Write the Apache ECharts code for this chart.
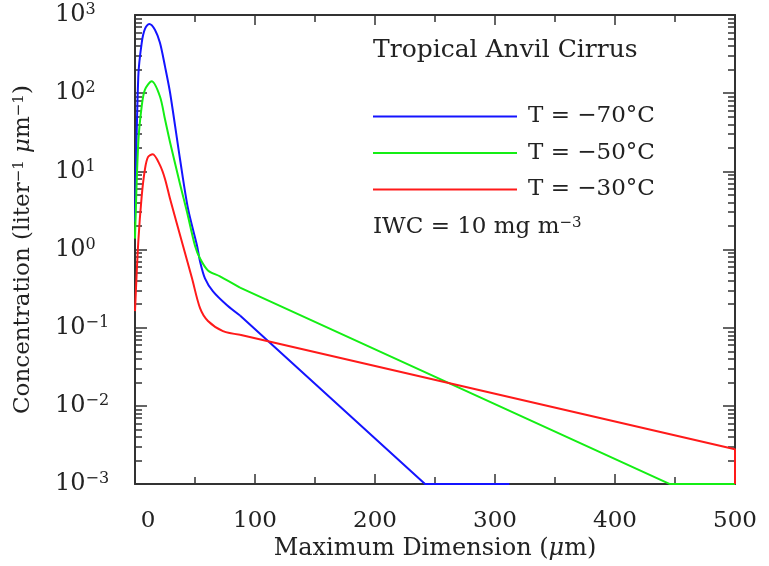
<!DOCTYPE html>
<html>
<head>
<meta charset="utf-8" />
<title>Tropical Anvil Cirrus</title>
<script src="https://cdn.jsdelivr.net/npm/echarts@6/dist/echarts.min.js"></script>
</head>
<body style="margin:0">
<div id="chart" style="width:769px;height:566px;"></div>
<script>
var seriesNames = ['T = \u221270\u00b0C', 'T = \u221250\u00b0C', 'T = \u221230\u00b0C'];
var colors = ['#1414ff', '#14ee14', '#ff1a1a'];
// curved part (smoothed) up to the knee, straight tails after it
var knee = 87.5;

// T = -70 C
var blueX = [0, 2.75, 5.6, 8.3, 11.9, 16.7, 20.8, 25, 29.2, 37.5, 44.2, 51.7, 54.2, 58.3, 65, 76.7, 87.5, 241.7, 312];
var blueY = [2.27, 164, 441, 664, 769, 645, 441, 220, 102, 14.4, 3.32, 1.12, 0.705, 0.429, 0.292, 0.194, 0.1436, 0.001, 0.001];
// T = -50 C
var greenX = [0, 2.75, 5.6, 8.3, 13.9, 20.8, 25, 29.2, 37.5, 43.3, 50, 54.2, 60.8, 70.8, 87.5, 445.8, 500];
var greenY = [1.38, 23.6, 68.3, 111, 142, 90.8, 46.3, 23.6, 6.9, 3.04, 1.12, 0.769, 0.541, 0.454, 0.326, 0.001, 0.001];
// T = -30 C
var redX = [0, 2.75, 5.6, 8.3, 10.8, 14.75, 20.8, 25, 29.2, 40, 47.5, 54.2, 60.8, 73.3, 87.5, 500, 500];
var redY = [0.163, 1.26, 4.86, 10.7, 15.2, 16.6, 12.0, 8.0, 4.45, 1.12, 0.429, 0.178, 0.122, 0.0907, 0.0815, 0.00279, 0.001];

var font = 'DejaVu Serif';
var ink = '#222';

function pairs(xs, ys, keep) {
    var out = [];
    xs.forEach(function (x, i) { if (keep(x)) out.push([x, ys[i]]); });
    return out;
}

function powLabel(v) {
    var e = Math.round(Math.log10(v));
    var s = e < 0 ? '\u2212' + (-e) : String(e);
    return '{b|10}{s|' + s + '}';
}

var tickStyle = { color: '#333', width: 1.5 };
var lineAxis = { onZero: false, lineStyle: { color: '#333', width: 2 } };

var curves = [[blueX, blueY], [greenX, greenY], [redX, redY]];
var series = [];
curves.forEach(function (c, i) {
    series.push({
        name: seriesNames[i],
        type: 'line',
        data: pairs(c[0], c[1], function (x) { return x <= knee; }),
        smooth: 0.3,
        showSymbol: false,
        color: colors[i],
        lineStyle: { width: 2 }
    });
    series.push({
        name: seriesNames[i],
        type: 'line',
        data: pairs(c[0], c[1], function (x) { return x >= knee; }),
        showSymbol: false,
        color: colors[i],
        lineStyle: { width: 2 }
    });
});

var chart = echarts.init(document.getElementById('chart'));

var option = {
    animation: false,
    grid: { left: 135, right: 34, top: 15, bottom: 79 },
    legend: {
        data: seriesNames,
        orient: 'vertical',
        left: 373,
        top: 105,
        padding: 0,
        icon: 'rect',
        itemWidth: 144,
        itemHeight: 2,
        itemGap: 13.5,
        textStyle: { fontFamily: font, fontSize: 23, color: ink, lineHeight: 23, padding: [0, 0, 0, 6] }
    },
    graphic: [{
        type: 'text',
        left: 373,
        top: 38,
        style: { text: 'Tropical Anvil Cirrus', font: '25px "DejaVu Serif"', fill: ink }
    }, {
        type: 'text',
        left: 373,
        top: 216,
        style: {
            text: 'IWC = 10 mg m{s|\u22123}',
            font: '23px "DejaVu Serif"',
            fill: ink,
            rich: { s: { fontSize: 15, fontFamily: font, verticalAlign: 'top', lineHeight: 15, fill: ink } }
        }
    }],
    xAxis: [{
        type: 'value',
        min: 0,
        max: 500,
        interval: 100,
        position: 'bottom',
        axisLine: lineAxis,
        axisTick: { inside: true, length: 10, lineStyle: tickStyle },
        minorTick: { show: true, splitNumber: 2, length: 7, lineStyle: tickStyle },
        splitLine: { show: false },
        axisLabel: {
            margin: 25,
            fontFamily: font,
            fontSize: 23,
            color: ink,
            formatter: function (v) { return v === 0 ? '{z|0}' : String(v); },
            rich: { z: { fontFamily: font, fontSize: 23, color: ink, padding: [0, 0, 0, 26] } }
        },
        name: 'Maximum Dimension ({mu|\u03bc}m)',
        nameLocation: 'middle',
        nameGap: 49,
        nameTextStyle: {
            fontFamily: font, fontSize: 24, color: ink,
            rich: { mu: { fontFamily: font, fontSize: 24, fontStyle: 'italic', color: ink } }
        }
    }, {
        type: 'value',
        min: 0,
        max: 500,
        interval: 100,
        position: 'top',
        axisLine: lineAxis,
        axisTick: { inside: true, length: 10, lineStyle: tickStyle },
        minorTick: { show: true, splitNumber: 2, length: 7, lineStyle: tickStyle },
        splitLine: { show: false },
        axisLabel: { show: false }
    }],
    yAxis: [{
        type: 'log',
        logBase: 10,
        min: 0.001,
        max: 1000,
        splitNumber: 6,
        position: 'left',
        axisLine: lineAxis,
        axisTick: { inside: true, length: 12, lineStyle: tickStyle },
        minorTick: { show: true, splitNumber: 9, length: 7, lineStyle: tickStyle },
        splitLine: { show: false },
        axisLabel: {
            margin: 80,
            align: 'left',
            formatter: powLabel,
            rich: {
                b: { fontFamily: font, fontSize: 24, color: ink, lineHeight: 26 },
                s: { fontFamily: font, fontSize: 16, color: ink, lineHeight: 16, verticalAlign: 'top' }
            }
        },
        name: 'Concentration (liter{s|\u22121} {mu|\u03bc}m{s|\u22121})',
        nameLocation: 'middle',
        nameGap: 100,
        nameTextStyle: {
            fontFamily: font, fontSize: 23, color: ink,
            rich: {
                s: { fontFamily: font, fontSize: 15, color: ink, verticalAlign: 'top', lineHeight: 15 },
                mu: { fontFamily: font, fontSize: 23, fontStyle: 'italic', color: ink }
            }
        }
    }, {
        type: 'log',
        logBase: 10,
        min: 0.001,
        max: 1000,
        splitNumber: 6,
        position: 'right',
        axisLine: lineAxis,
        axisTick: { inside: true, length: 12, lineStyle: tickStyle },
        minorTick: { show: true, splitNumber: 9, length: 7, lineStyle: tickStyle },
        splitLine: { show: false },
        axisLabel: { show: false }
    }],
    series: series
};

chart.setOption(option);
</script>
</body>
</html>
